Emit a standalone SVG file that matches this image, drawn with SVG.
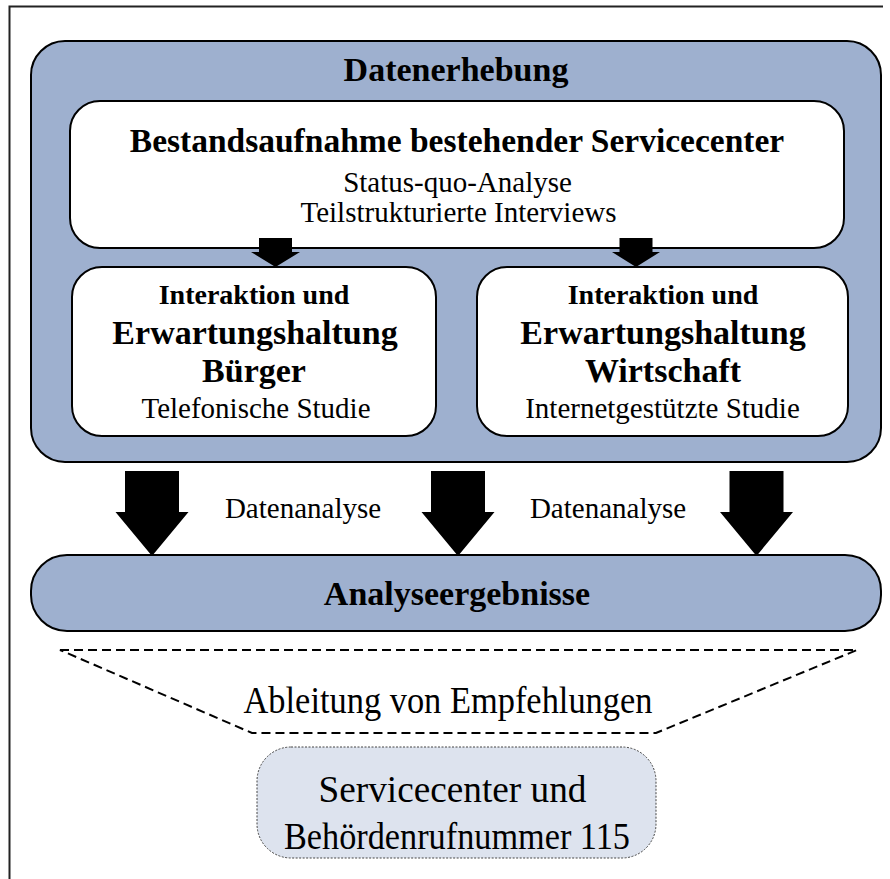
<svg xmlns="http://www.w3.org/2000/svg" width="890" height="879" viewBox="0 0 890 879">
<style>
text{font-family:"Liberation Serif","Times New Roman",serif;fill:#000;text-anchor:middle}
.b{font-weight:bold}
.blue{fill:#9eb0cf;stroke:#000;stroke-width:2}
.white{fill:#fff;stroke:#000;stroke-width:2}
.arrow{fill:#000;stroke:none}
</style>
<rect width="890" height="879" fill="#fff"/>
<path d="M9.5,879 V6.5 H883" fill="none" stroke="#222" stroke-width="2"/>

<g id="datenerhebung">
  <rect class="blue" x="31" y="41" width="850" height="421" rx="34"/>
  <text class="b" x="456" y="81" font-size="34">Datenerhebung</text>
</g>

<g id="bestandsaufnahme">
  <rect class="white" x="70" y="101" width="774" height="147" rx="30"/>
  <text class="b" x="457" y="152" font-size="33.5">Bestandsaufnahme bestehender Servicecenter</text>
  <text x="457.5" y="192" font-size="29">Status-quo-Analyse</text>
  <text x="458.5" y="222" font-size="29">Teilstrukturierte Interviews</text>
</g>

<g id="buerger">
  <rect class="white" x="72" y="267" width="364" height="169" rx="30"/>
  <text class="b" x="254" y="304" font-size="28">Interaktion und</text>
  <text class="b" x="255" y="344" font-size="34">Erwartungshaltung</text>
  <text class="b" x="254" y="382" font-size="34">Bürger</text>
  <text x="256" y="418" font-size="29">Telefonische Studie</text>
</g>

<g id="wirtschaft">
  <rect class="white" x="477" y="267" width="371" height="169" rx="30"/>
  <text class="b" x="663" y="304" font-size="28">Interaktion und</text>
  <text class="b" x="663" y="344" font-size="34">Erwartungshaltung</text>
  <text class="b" x="663" y="382" font-size="34">Wirtschaft</text>
  <text x="662.5" y="418" font-size="29">Internetgestützte Studie</text>
</g>

<g id="analyseergebnisse">
  <rect class="blue" x="31" y="555" width="850" height="76" rx="36"/>
  <text class="b" x="457" y="605" font-size="34">Analyseergebnisse</text>
</g>

<g id="ableitung">
  <polygon points="60,650 857,650 656,733 252,733" fill="none" stroke="#000" stroke-width="2" stroke-dasharray="9,5"/>
  <text x="448" y="713" font-size="38" textLength="409" lengthAdjust="spacingAndGlyphs">Ableitung von Empfehlungen</text>
</g>

<g id="servicecenter115">
  <rect x="257" y="747" width="399" height="111" rx="34" fill="#dde3ee" stroke="#444" stroke-width="1" stroke-dasharray="2,1.5"/>
  <text x="452.5" y="802" font-size="38" textLength="268" lengthAdjust="spacingAndGlyphs">Servicecenter und</text>
  <text x="457" y="849" font-size="38" textLength="346" lengthAdjust="spacingAndGlyphs">Behördenrufnummer 115</text>
</g>

<g id="connectors">
  <polygon class="arrow" points="259,238 292,238 292,252 300,252 275.5,267 251,252 259,252"/>
  <polygon class="arrow" points="619.5,238 652.5,238 652.5,252 660,252 636,267 612,252 619.5,252"/>
  <polygon class="arrow" points="125,471 179,471 179,512 188.5,512 152,556 115.5,512 125,512"/>
  <polygon class="arrow" points="431,471 485,471 485,512 494.5,512 458,556 421.5,512 431,512"/>
  <polygon class="arrow" points="729.5,471 783.5,471 783.5,512 793,512 756.5,556 720,512 729.5,512"/>
  <text x="303" y="518" font-size="29">Datenanalyse</text>
  <text x="608" y="518" font-size="29">Datenanalyse</text>
</g>
</svg>
